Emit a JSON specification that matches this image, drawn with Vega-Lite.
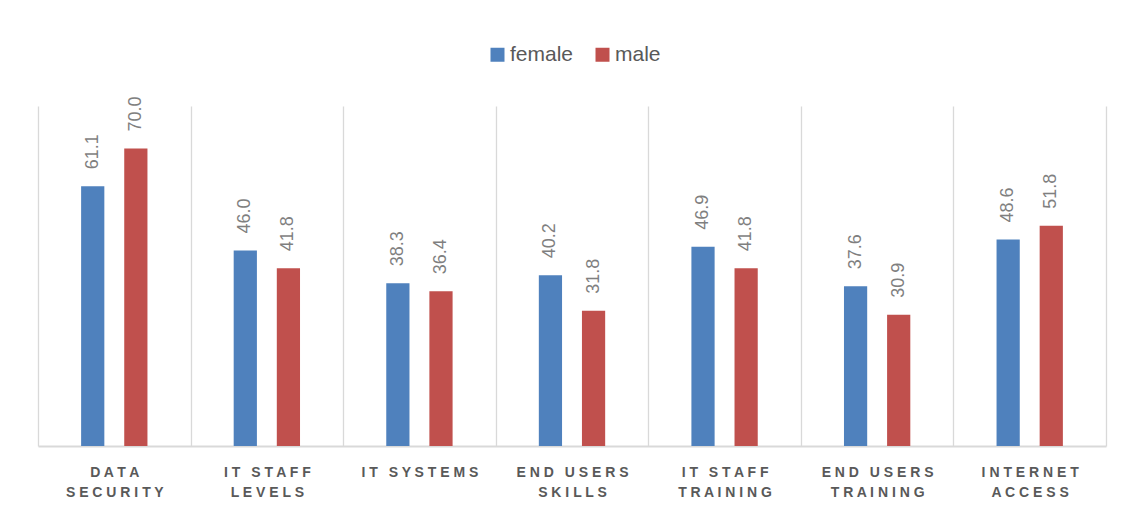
{
  "$schema": "https://vega.github.io/schema/vega-lite/v6.json",
  "width": 1068,
  "height": 340,
  "autosize": {"type": "none"},
  "padding": {"left": 38, "top": 106, "right": 15, "bottom": 65},
  "background": "white",
  "config": {"view": {"stroke": null}, "font": "Liberation Sans"},
  "data": {
    "values": [
      {"area": "Data Security", "gender": "female", "pct": 61.1},
      {"area": "Data Security", "gender": "male", "pct": 70.0},
      {"area": "IT Staff Levels", "gender": "female", "pct": 46.0},
      {"area": "IT Staff Levels", "gender": "male", "pct": 41.8},
      {"area": "IT Systems", "gender": "female", "pct": 38.3},
      {"area": "IT Systems", "gender": "male", "pct": 36.4},
      {"area": "End Users Skills", "gender": "female", "pct": 40.2},
      {"area": "End Users Skills", "gender": "male", "pct": 31.8},
      {"area": "IT Staff Training", "gender": "female", "pct": 46.9},
      {"area": "IT Staff Training", "gender": "male", "pct": 41.8},
      {"area": "End Users Training", "gender": "female", "pct": 37.6},
      {"area": "End Users Training", "gender": "male", "pct": 30.9},
      {"area": "Internet Access", "gender": "female", "pct": 48.6},
      {"area": "Internet Access", "gender": "male", "pct": 51.8}
    ]
  },
  "encoding": {
    "x": {
      "field": "area",
      "type": "nominal",
      "sort": null,
      "title": null,
      "scale": {"paddingInner": 0, "paddingOuter": 0},
      "axis": {
        "labelAngle": 0,
        "ticks": false,
        "tickBand": "extent",
        "grid": true,
        "gridColor": "#d9d9d9",
        "gridWidth": 1.3,
        "domainColor": "#d9d9d9",
        "domainWidth": 2,
        "labelFont": "Liberation Sans",
        "labelFontWeight": "bold",
        "labelFontSize": 14,
        "labelColor": "#595959",
        "labelPadding": 19,
        "labelLineHeight": 20,
        "labelBaseline": "top",
        "labelLimit": 300,
        "labelExpr": "(!isValid(datum.value) || datum.label == 'undefined') ? '' : length(split(datum.label, ' ')) == 3 ? [join(split(upper(split(datum.label, ' ')[0]), ''), ' ') + '\u2002 ' + join(split(upper(split(datum.label, ' ')[1]), ''), ' '), join(split(upper(split(datum.label, ' ')[2]), ''), ' ')] : datum.label == 'IT Systems' ? [join(split(upper(split(datum.label, ' ')[0]), ''), ' ') + '\u2002 ' + join(split(upper(split(datum.label, ' ')[1]), ''), ' ')] : [join(split(upper(split(datum.label, ' ')[0]), ''), ' '), join(split(upper(split(datum.label, ' ')[1]), ''), ' ')]"
      }
    },
    "xOffset": {
      "field": "gender",
      "type": "nominal",
      "sort": ["female", "male"],
      "scale": {"paddingInner": 0.4615, "paddingOuter": 1.19}
    },
    "y": {
      "field": "pct",
      "type": "quantitative",
      "scale": {"domain": [0, 80]},
      "axis": null
    }
  },
  "layer": [
    {
      "mark": {"type": "bar"},
      "encoding": {
        "color": {
          "field": "gender",
          "type": "nominal",
          "scale": {"domain": ["female", "male"], "range": ["#4F81BD", "#C0504D"]},
          "legend": {
            "orient": "none",
            "legendX": 449,
            "legendY": -62,
            "direction": "horizontal",
            "title": null,
            "padding": 0,
            "symbolType": "square",
            "symbolSize": 196,
            "symbolStrokeWidth": 0,
            "symbolOpacity": 1,
            "labelFont": "Liberation Sans",
            "labelFontSize": 21,
            "labelColor": "#595959",
            "labelOffset": 2,
            "columnPadding": 18
          }
        }
      }
    },
    {
      "mark": {
        "type": "text",
        "angle": 270,
        "align": "left",
        "baseline": "middle",
        "dx": 17,
        "fontSize": 18,
        "font": "Liberation Sans",
        "color": "#7f7f7f"
      },
      "encoding": {
        "text": {"field": "pct", "type": "quantitative", "format": ".1f"}
      }
    }
  ]
}
